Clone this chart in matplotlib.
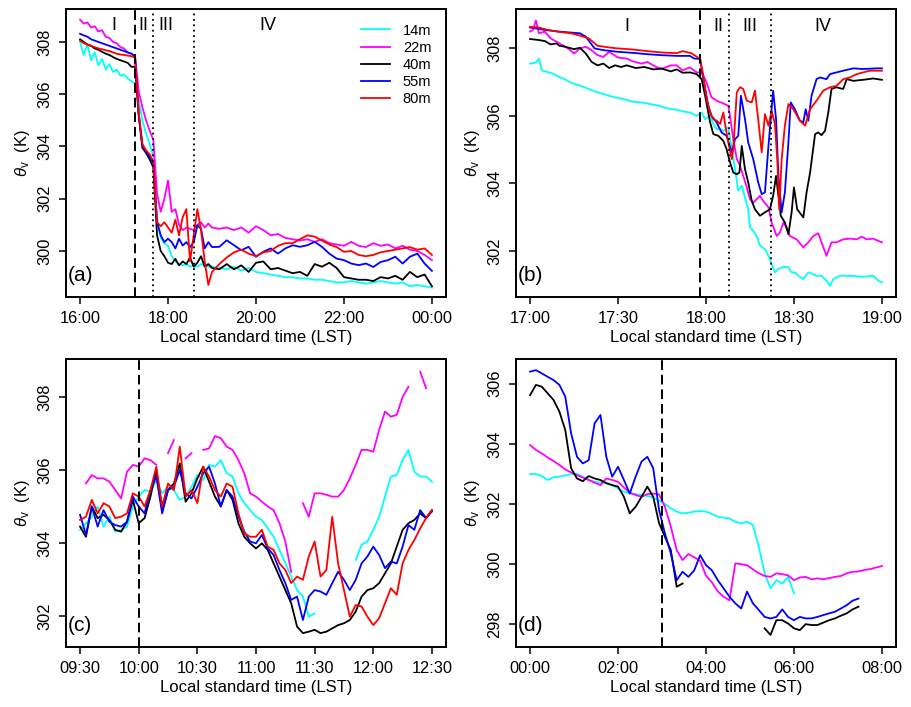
import numpy as np
import matplotlib
matplotlib.use("Agg")
import matplotlib.pyplot as plt

plt.rcParams['font.family'] = ['Liberation Sans', 'DejaVu Sans']
plt.rcParams['mathtext.fontset'] = 'custom'
plt.rcParams['mathtext.rm'] = 'Liberation Sans'
plt.rcParams['mathtext.it'] = 'Liberation Sans:italic'

nan = np.nan
heights = ['14m', '22m', '40m', '55m', '80m']
colors = ['#00FFFF', '#FF00FF', '#000000', '#0000FF', '#FF0000']

# ---- panel (a): minutes after 16:00 ----
a_time = np.concatenate([np.arange(0, 181, 5), np.arange(190, 481, 10)])
a_14 = [308.0, 307.5, 307.9, 307.3, 307.6, 307.1, 307.35, 306.95, 307.15, 306.85, 306.95, 306.7, 306.75, 306.6, 306.5, 306.4,
        305.8, 305.0, 304.5, 304.1, 303.6, 301.3, 300.5, 300.3, 300.2, 299.8, 299.6, 299.5, 299.45, 299.5, 299.4, 299.45, 299.4, 299.5, 299.45, 299.4, 299.4,
        299.35, 299.3, 299.4, 299.25, 299.35, 299.2, 299.15, 299.1, 299.05, 299.0, 299.0, 298.95, 298.95, 298.9, 298.9, 298.85, 298.8, 298.8, 298.85, 298.8,
        298.75, 298.8, 298.85, 298.8, 298.75, 298.8, 298.65, 298.7, 298.65, 298.6]
a_22 = [308.85, 308.7, 308.75, 308.55, 308.6, 308.4, 308.45, 308.2, 308.15, 308.0, 307.95, 307.8, 307.75, 307.6, 307.55, 307.45,
        306.1, 305.5, 305.0, 304.6, 304.25, 302.2, 301.5, 302.0, 302.7, 301.5, 301.6, 301.0, 300.8, 300.9, 300.85, 300.8, 301.0, 301.1, 300.9, 301.05, 300.9,
        300.85, 300.9, 300.8, 300.9, 300.7, 300.95, 300.8, 300.6, 300.65, 300.5, 300.45, 300.4, 300.45, 300.35, 300.45, 300.3, 300.25, 300.2, 300.35, 300.2,
        300.15, 300.3, 300.2, 300.25, 300.1, 300.2, 300.05, 300.0, 299.85, 299.65]
a_40 = [308.1, 308.0, 307.9, 307.85, 307.75, 307.7, 307.62, 307.55, 307.5, 307.42, 307.35, 307.3, 307.25, 307.2, 307.05, 307.05,
        305.2, 303.95, 303.75, 303.5, 303.2, 300.6, 300.0, 299.8, 299.55, 299.5, 299.7, 299.45, 299.6, 299.5, 299.75, 299.4, 299.55, 299.8, 299.4, 299.5, 299.35,
        299.3, 299.5, 299.3, 299.45, 299.2, 299.55, 299.6, 299.3, 299.35, 299.25, 299.15, 299.2, 299.05, 299.5, 299.4, 299.55, 299.35, 299.0, 298.95, 298.9,
        298.9, 298.85, 299.0, 298.95, 299.05, 298.9, 299.2, 299.0, 299.1, 298.65]
a_55 = [308.31, 308.25, 308.2, 308.1, 308.05, 308.0, 307.95, 307.9, 307.85, 307.8, 307.75, 307.7, 307.65, 307.6, 307.55, 307.45,
        305.2, 304.04, 303.8, 303.6, 303.3, 301.1, 300.6, 300.34, 300.47, 300.34, 300.1, 300.47, 300.21, 300.34, 300.15, 300.34, 300.98, 300.85, 300.1, 300.34, 300.15,
        300.16, 300.41, 300.22, 300.03, 300.16, 299.78, 299.97, 300.1, 299.9, 300.1, 300.22, 300.16, 300.22, 300.35, 300.16, 299.9, 299.71, 299.65, 299.52, 299.46,
        299.52, 299.39, 299.58, 299.65, 299.78, 299.52, 299.78, 299.9, 299.52, 299.24]
a_80 = [308.05, 307.95, 307.9, 307.85, 307.8, 307.75, 307.72, 307.68, 307.65, 307.6, 307.55, 307.52, 307.5, 307.48, 307.45, 307.4,
        305.3, 304.1, 303.85, 303.7, 303.4, 301.1, 300.95, 301.1, 300.9, 300.7, 301.2, 300.6, 301.3, 301.6, 299.6, 300.6, 301.6, 300.8, 299.6, 298.7, 299.2,
        299.5, 299.75, 299.95, 300.05, 299.9, 299.8, 299.95, 300.0, 300.2, 300.3, 300.3, 300.45, 300.6, 300.55, 300.4, 300.25, 300.15, 299.97, 300.0, 299.85,
        299.8, 299.85, 299.95, 300.0, 300.05, 300.1, 300.15, 300.05, 300.1, 299.85]
a_xticklabels = ['16:00', '18:00', '20:00', '22:00', '00:00']

# ---- panel (b): minutes after 17:00 ----
b_t14 = [0, 2, 3, 4, 6, 8, 10, 12, 14, 17, 20, 23, 26, 29, 32, 35, 38, 41, 44, 47, 50, 53, 54.5, 56.8, 58.5, 59.7, 61.4, 62.5, 63.6, 64.8,
         65.9, 67.6, 68.8, 69.9, 71.0, 72.2, 73.3, 74.4, 75.0, 76.1, 77.3, 78.4, 80.1, 81.3, 82.4, 83.5, 84.7, 86.4, 88.1, 89.2,
         90.3, 91.5, 93.2, 94.9, 96.6, 97.7, 99.4, 101.1, 102.3, 103.4, 105.7, 109.1, 113.6, 117.0, 118.8, 120.0]
b_14 = [307.55, 307.58, 307.7, 307.35, 307.3, 307.25, 307.15, 307.08, 306.98, 306.9, 306.8, 306.7, 306.62, 306.55, 306.5, 306.42, 306.4, 306.35, 306.3, 306.22,
        306.18, 306.12, 306.1, 306.0, 306.1, 305.9, 306.0, 305.76, 305.61, 305.61, 305.56, 305.66, 305.02, 304.42, 303.78, 303.93, 303.58, 303.23, 302.69, 302.59,
        302.44, 302.15, 302.05, 301.85, 301.6, 301.36, 301.46, 301.53, 301.51, 301.36, 301.36, 301.26, 301.16, 301.36, 301.31, 301.26, 301.26, 301.11, 300.96, 301.16,
        301.26, 301.26, 301.23, 301.26, 301.11, 301.06]
b_t22 = [0, 1, 2, 3, 5, 7, 9, 11, 13, 15, 17, 19, 21, 23, 25, 27, 30, 33, 35, 38, 40, 43, 45, 48, 50, 52, 54.5, 56.8, 58.5, 60.2,
         61.9, 63.6, 65.9, 67.6, 68.2, 68.8, 69.3, 70.5, 71.6, 72.7, 73.9, 75.0, 76.1, 77.3, 78.4, 79.5, 81.3, 82.4, 84.1, 85.2,
         86.4, 87.5, 88.6, 90.9, 93.2, 94.9, 96.6, 98.3, 99.4, 101.1, 102.8, 104.5, 106.8, 109.1, 111.4, 113.1, 114.8, 117.0, 120.0]
b_22 = [308.5, 308.55, 308.83, 308.45, 308.5, 308.3, 308.2, 308.1, 308.0, 307.85, 308.0, 308.05, 307.95, 307.8, 307.75, 307.9, 307.73, 307.7, 307.62, 307.55,
        307.6, 307.45, 307.4, 307.5, 307.5, 307.35, 307.44, 307.29, 307.29, 306.99, 306.55, 306.45, 306.37, 306.3, 306.0, 305.61, 305.31, 304.72, 304.52, 304.22,
        303.88, 303.53, 303.43, 303.53, 303.63, 303.48, 303.29, 302.84, 302.44, 302.54, 302.84, 302.69, 302.44, 302.34, 302.1, 302.25, 302.44, 302.52, 302.25, 301.85,
        302.25, 302.25, 302.34, 302.36, 302.34, 302.42, 302.34, 302.36, 302.25]
b_t40 = [0, 3, 5, 7, 9, 10, 12, 15, 17, 19, 21, 23, 25, 27, 29, 31, 33, 36, 39, 42, 45, 48, 50, 52, 54.5, 56.8, 58.5, 59.7, 61.4, 62.5,
         64.2, 65.9, 67.0, 68.2, 69.3, 70.5, 71.4, 72.2, 73.3, 74.4, 75.6, 76.7, 78.4, 80.1, 81.8, 82.9, 83.9, 84.7, 85.5, 86.9,
         88.1, 89.2, 90.0, 91.1, 93.2, 94.3, 95.5, 97.2, 98.3, 99.4, 100.6, 101.7, 102.8, 104.5, 105.7, 106.8, 108.0, 110.2, 113.6, 117.0, 120.0]
b_40 = [308.28, 308.25, 308.22, 308.12, 308.15, 308.08, 308.05, 307.98, 308.02, 307.85, 307.6, 307.5, 307.55, 307.42, 307.5, 307.45, 307.5, 307.42, 307.45, 307.38,
        307.4, 307.32, 307.38, 307.28, 307.29, 307.24, 307.09, 306.6, 305.81, 305.46, 305.41, 305.26, 305.02, 304.62, 304.32, 304.27, 304.32, 305.11, 304.42, 304.03,
        303.48, 303.23, 303.04, 303.14, 303.23, 303.63, 304.22, 303.63, 303.04, 302.84, 302.49, 303.14, 303.88, 303.23, 302.99, 303.73, 304.32, 305.46, 305.51, 305.43,
        305.56, 306.1, 306.8, 306.85, 306.82, 306.8, 307.09, 307.04, 307.07, 307.11, 307.07]
b_t55 = [0, 5, 10, 14, 17, 19, 22, 25, 30, 35, 40, 45, 50, 54.5, 56, 58, 59.1, 60.8, 61.9, 63.6,
         65.3, 67.0, 68.8, 69.9, 71.0, 71.9, 73.3, 74.4, 76.1, 77.8, 79.0, 80.1, 81.3, 82.9, 83.9, 84.7, 85.8, 86.9, 88.1, 88.9,
         90.3, 92.0, 93.2, 94.0, 94.9, 96.0, 97.7, 98.9, 101.1, 102.3, 104.5, 106.8, 110.2, 113.6, 118.2, 120.0]
b_55 = [308.62, 308.55, 308.5, 308.47, 308.45, 308.35, 308.0, 307.95, 307.9, 307.87, 307.83, 307.8, 307.78, 307.78, 307.7, 307.69, 307.09, 306.3, 306.0, 305.81,
        305.51, 305.41, 304.92, 305.31, 305.41, 306.6, 305.9, 305.21, 304.72, 304.03, 303.68, 303.73, 305.11, 306.75, 305.9, 304.22, 303.14, 303.73, 305.21, 306.4,
        306.2, 305.86, 305.81, 306.2, 305.86, 306.6, 307.09, 307.14, 307.09, 307.24, 307.29, 307.34, 307.41, 307.39, 307.41, 307.41]
b_t80 = [0, 3, 6, 10, 14, 17, 20, 23, 27, 30, 35, 40, 45, 50, 52, 55, 58.0, 59.1, 60.2, 61.4,
         62.5, 63.6, 64.8, 65.9, 66.5, 67.6, 68.8, 69.3, 70.5, 71.6, 72.7, 73.9, 75.6, 76.7, 77.8, 79.0, 80.1, 81.3, 82.4, 83.5,
         84.3, 85.0, 85.8, 86.9, 88.1, 89.8, 92.0, 93.8, 95.5, 97.7, 100.0, 102.3, 104.5, 106.8, 109.1, 111.4, 113.6, 115.9, 118.2, 120.0]
b_80 = [308.64, 308.62, 308.55, 308.49, 308.45, 308.38, 308.3, 308.08, 308.03, 308.0, 307.97, 307.92, 307.88, 307.86, 307.92, 307.86, 307.69, 307.19, 306.5, 306.1,
        305.9, 305.86, 305.76, 306.1, 305.76, 305.21, 304.72, 305.02, 306.7, 306.85, 306.8, 306.45, 306.4, 306.75, 305.9, 304.92, 306.05, 305.71, 306.15, 305.76,
        304.72, 303.23, 304.72, 305.71, 306.35, 306.2, 305.86, 305.71, 306.2, 306.45, 306.75, 306.85, 306.89, 307.09, 307.14, 307.24, 307.29, 307.34, 307.34, 307.34]
b_xticklabels = ['17:00', '17:30', '18:00', '18:30', '19:00']

# ---- panel (c): minutes after 09:30 ----
c_time = np.arange(0, 181, 3)
c_14 = [304.36, 304.54, 304.72, 305.0, 304.45, 304.72, 304.31, 304.36, 304.45, 305.0, 305.27, 305.45, 305.41, 305.72, 305.36, 305.54, 305.45, 305.18, 305.27, 305.54,
        305.86, 305.72, 306.14, 306.09, 306.27, 305.91, 305.82, 305.36, 305.09, 304.9, 304.72, 304.63, 304.4, 304.17, 303.81, 303.44, 303.08, 302.71, 302.53, 301.98,
        302.07, nan, nan, nan, nan, nan, nan, 303.53, 303.95, 304.04, 304.36, 304.72, 305.27, 305.82, 305.86, 306.27, 306.55, 305.95, 305.82, 305.82, 305.68]
c_22 = [nan, 305.63, 305.86, 305.77, 305.77, 305.68, 305.45, 305.22, 305.95, 306.14, 306.09, 306.32, 306.27, 306.14, nan, 306.46, 306.82, nan, 306.32, 306.46,
        nan, 306.55, 306.59, 306.93, 306.87, 306.64, 306.55, 306.27, 305.91, 305.36, 305.27, 305.13, 305.0, 304.9, 304.54, 304.04, 303.21, nan, 305.09, 304.72,
        305.36, 305.36, 305.32, 305.27, 305.27, 305.45, 305.77, 306.14, 306.55, 306.55, 306.5, 307.1, 307.6, 307.46, 307.51, 308.0, 308.28, nan, 308.69, 308.24, nan]
c_40 = [304.45, 304.17, 305.0, 304.68, 304.77, 304.63, 304.36, 304.31, 304.58, 305.18, 304.54, 304.68, 305.27, 306.0, 304.9, 305.45, 305.63, 306.18, 305.13, 305.36,
        305.77, 306.09, 305.68, 305.27, 305.0, 305.45, 305.18, 304.54, 304.17, 303.99, 303.85, 303.99, 303.81, 303.44, 303.08, 302.71, 302.35, 301.71, 301.53, 301.57,
        301.62, 301.53, 301.57, 301.66, 301.75, 301.8, 301.89, 302.12, 302.53, 302.71, 302.76, 302.9, 303.17, 303.44, 303.9, 304.36, 304.54, 304.63, 304.81, 304.68, 304.9]
c_55 = [304.77, 304.22, 305.0, 304.45, 304.9, 304.58, 304.49, 304.45, 304.58, 305.27, 305.0, 304.81, 305.45, 305.82, 304.81, 305.45, 305.54, 306.0, 305.36, 305.22,
        305.54, 305.91, 306.09, 305.63, 305.0, 305.45, 305.27, 304.72, 304.31, 304.04, 303.99, 304.22, 303.85, 303.67, 303.26, 302.9, 302.44, 302.53, 301.89, 302.53,
        302.71, 302.67, 302.58, 302.9, 303.21, 302.99, 302.71, 302.99, 303.44, 303.63, 303.9, 303.67, 303.31, 303.49, 303.44, 303.9, 304.49, 304.36, 304.9, 304.68, 304.86]
c_80 = [304.63, 304.72, 305.18, 304.81, 305.09, 305.0, 304.68, 304.72, 304.81, 305.36, 305.27, 305.0, 305.45, 306.09, 305.0, 305.63, 305.45, 306.64, 305.27, 305.45,
        305.09, 306.09, 305.82, 305.45, 305.27, 305.63, 305.54, 304.81, 304.26, 304.17, 304.17, 304.36, 303.9, 303.81, 303.44, 303.26, 302.9, 303.08, 302.99, 303.63,
        304.04, 303.08, 303.26, 304.72, 303.44, 302.71, 301.98, 302.3, 302.26, 301.98, 301.75, 301.94, 302.35, 302.76, 302.58, 303.44, 303.81, 304.08, 304.4, 304.68, 304.9]
c_xticklabels = ['09:30', '10:00', '10:30', '11:00', '11:30', '12:00', '12:30']

# ---- panel (d): minutes after 00:00 ----
d_time = np.arange(0, 481, 8)
d_14 = [303.0, 303.0, 302.93, 302.8, 302.89, 302.91, 302.95, 302.99, 303.0, 302.91, 302.8, 302.74, 302.71, 302.72, 302.63, 302.52, 302.41, 302.35, 302.33, 302.3,
        302.27, 302.21, 302.11, 302.0, 301.86, 301.75, 301.69, 301.71, 301.75, 301.77, 301.75, 301.67, 301.58, 301.55, 301.52, 301.41, 301.36, 301.41, 301.3, 300.58,
        299.7, 299.2, 299.47, 299.36, 299.58, 299.03, nan, nan, nan, nan, nan, nan, nan, nan, nan, nan, nan, nan, nan, nan, nan]
d_22 = [303.96, 303.8, 303.68, 303.55, 303.43, 303.3, 303.15, 303.05, 302.96, 302.88, 302.8, 302.71, 302.63, 302.85, 302.8, 302.74, 302.55, 302.38, 302.3, 302.24,
        302.33, 302.35, 302.32, 301.91, 301.25, 300.47, 300.14, 300.34, 300.23, 300.12, 299.62, 299.4, 299.1, 298.92, 298.8, 300.03, 300.0, 299.97, 299.83, 299.7,
        299.61, 299.58, 299.7, 299.67, 299.63, 299.47, 299.56, 299.58, 299.5, 299.53, 299.5, 299.54, 299.58, 299.61, 299.7, 299.75, 299.76, 299.81, 299.84, 299.89, 299.94]
d_40 = [305.62, 305.96, 305.9, 305.68, 305.46, 305.07, 304.46, 303.19, 302.85, 302.76, 302.93, 302.85, 302.8, 302.69, 302.63, 302.58, 302.24, 301.69, 301.91, 302.24,
        302.58, 302.24, 301.36, 300.91, 300.47, 299.25, 299.36, nan, nan, nan, nan, nan, nan, nan, nan, nan, nan, nan, nan, nan,
        297.87, 297.65, 298.14, 298.14, 298.03, 297.87, 297.81, 298.01, 297.98, 297.98, 298.06, 298.14, 298.2, 298.29, 298.37, 298.5, 298.59, nan, nan, nan, nan]
d_55 = [306.4, 306.45, 306.34, 306.23, 306.12, 305.96, 305.57, 304.35, 303.57, 303.35, 303.46, 304.68, 304.96, 303.57, 302.91, 303.24, 302.8, 302.35, 302.91, 303.41,
        303.57, 303.19, 301.8, 301.02, 300.36, 299.47, 299.75, 299.58, 299.8, 300.3, 299.97, 299.8, 299.47, 299.2, 298.92, 298.7, 298.53, 299.09, 298.7, 298.48,
        298.25, 298.2, 298.25, 298.5, 298.25, 298.14, 298.25, 298.2, 298.2, 298.25, 298.31, 298.37, 298.42, 298.53, 298.64, 298.79, 298.86, nan, nan, nan, nan]
d_xticklabels = ['00:00', '02:00', '04:00', '06:00', '08:00']


def style(ax, xticks, xlabels, yticks, xlim, ylim, tag):
    ax.set_xlim(xlim)
    ax.set_ylim(ylim)
    ax.set_xticks(xticks)
    ax.set_xticklabels(xlabels)
    ax.set_yticks(yticks)
    ax.set_yticklabels([str(v) for v in yticks], rotation=90, va='center')
    ax.tick_params(direction='out', length=5, width=1.1, labelsize=11.8, pad=5)
    ax.set_xlabel('Local standard time (LST)', fontsize=12, labelpad=3)
    ax.set_ylabel(r'$\theta_\mathrm{v}$  (K)', fontsize=12, labelpad=4)
    for s in ax.spines.values():
        s.set_linewidth(1.4)
    ax.text(0.004, 0.075, tag, transform=ax.transAxes, fontsize=15, ha='left', va='center')


fig = plt.figure(figsize=(9.12, 7.07), dpi=100)
W, H = 912, 707
ax_a = fig.add_axes([66 / W, 1 - 297 / H, 380 / W, 288 / H])
ax_b = fig.add_axes([516 / W, 1 - 297 / H, 380 / W, 288 / H])
ax_c = fig.add_axes([66 / W, 1 - 647 / H, 380 / W, 288 / H])
ax_d = fig.add_axes([516 / W, 1 - 647 / H, 380 / W, 288 / H])
lw = 1.3

# (a)
for name, col, ser in zip(heights, colors, [a_14, a_22, a_40, a_55, a_80]):
    ax_a.plot(a_time, ser, color=col, lw=lw, label=name)
ax_a.axvline(75, color='k', lw=1.4, dashes=(5, 2.5))
ax_a.axvline(100, color='k', lw=1.3, dashes=(1, 2))
ax_a.axvline(155, color='k', lw=1.3, dashes=(1, 2))
for lab, xpos in zip(['I', 'II', 'III', 'IV'], [46, 87, 117, 256]):
    ax_a.text(xpos, 308.61, lab, fontsize=13, ha='center', va='center')
style(ax_a, [0, 120, 240, 360, 480], a_xticklabels, [300, 302, 304, 306, 308],
      (-19.2, 499.2), (298.24, 309.26), '(a)')
ax_a.legend(loc='upper right', frameon=False, fontsize=10.5, handlelength=1.95,
            handletextpad=0.9, labelspacing=0.22, borderaxespad=0.6)

# (b)
for col, t, ser in zip(colors, [b_t14, b_t22, b_t40, b_t55, b_t80], [b_14, b_22, b_40, b_55, b_80]):
    ax_b.plot(t, ser, color=col, lw=lw)
ax_b.axvline(58, color='k', lw=1.4, dashes=(5, 2.5))
ax_b.axvline(68, color='k', lw=1.3, dashes=(1, 2))
ax_b.axvline(82, color='k', lw=1.3, dashes=(1, 2))
for lab, xpos in zip(['I', 'II', 'III', 'IV'], [33, 64.2, 74.8, 99.8]):
    ax_b.text(xpos, 308.66, lab, fontsize=13, ha='center', va='center')
style(ax_b, [0, 30, 60, 90, 120], b_xticklabels, [302, 304, 306, 308],
      (-4.8, 124.8), (300.63, 309.17), '(b)')

# (c)
for col, ser in zip(colors, [c_14, c_22, c_40, c_55, c_80]):
    ax_c.plot(c_time, ser, color=col, lw=lw)
ax_c.axvline(30, color='k', lw=1.4, dashes=(5, 2.5))
style(ax_c, [0, 30, 60, 90, 120, 150, 180], c_xticklabels, [302, 304, 306, 308],
      (-7.2, 187.2), (301.15, 309.04), '(c)')

# (d)
for col, ser in zip(colors[:4], [d_14, d_22, d_40, d_55]):
    ax_d.plot(d_time, ser, color=col, lw=lw)
ax_d.axvline(180, color='k', lw=1.4, dashes=(5, 2.5))
style(ax_d, [0, 120, 240, 360, 480], d_xticklabels, [298, 300, 302, 304, 306],
      (-19.2, 499.2), (297.25, 306.82), '(d)')

fig.savefig('out.png', dpi=100)
